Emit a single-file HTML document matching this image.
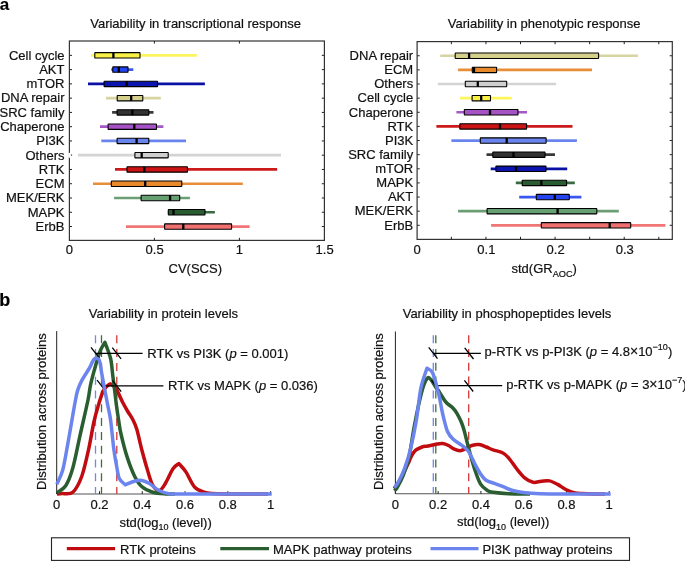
<!DOCTYPE html>
<html><head><meta charset="utf-8"><style>
html,body{margin:0;padding:0;background:#fff;width:685px;height:561px;overflow:hidden}
svg{display:block;will-change:transform}
text{font-family:"Liberation Sans", sans-serif;fill:#111;stroke:#111;stroke-width:0.2px}
</style></head><body>
<svg width="685" height="561" viewBox="0 0 685 561" font-family='"Liberation Sans", sans-serif' fill="#111">
<rect width="685" height="561" fill="#fff"/>
<text x="-0.3" y="9.9" font-size="17" text-anchor="start" font-weight="bold" style="fill:#000;stroke:#000;stroke-width:0.15px">a</text>
<text x="-0.7" y="305.8" font-size="18" text-anchor="start" font-weight="bold" style="fill:#000;stroke:#000;stroke-width:0.15px">b</text>
<text x="195.6" y="28.1" font-size="13" text-anchor="middle" font-weight="normal" >Variability in transcriptional response</text>
<text x="544.2" y="28.1" font-size="13" text-anchor="middle" font-weight="normal" >Variability in phenotypic response</text>
<line x1="91" y1="55.35" x2="196.8" y2="55.35" stroke="#fcf65c" stroke-width="2.7"/>
<rect x="94.8" y="52.65" width="45.20" height="5.4" rx="0.4" fill="#f9f148" stroke="#000" stroke-width="1.1"/>
<line x1="113.4" y1="52.65" x2="113.4" y2="58.05" stroke="#000" stroke-width="2.3"/>
<line x1="69.4" y1="55.35" x2="72.0" y2="55.35" stroke="#222" stroke-width="1"/>
<line x1="324.4" y1="55.35" x2="321.79999999999995" y2="55.35" stroke="#222" stroke-width="1"/>
<text x="64.5" y="59.65" font-size="13" text-anchor="end" font-weight="normal" >Cell cycle</text>
<line x1="111.3" y1="69.62" x2="133.3" y2="69.62" stroke="#3a56f0" stroke-width="2.7"/>
<rect x="112.8" y="66.92" width="15.20" height="5.4" rx="0.4" fill="#2444f0" stroke="#000" stroke-width="1.1"/>
<line x1="118.8" y1="66.92" x2="118.8" y2="72.32" stroke="#000" stroke-width="2.3"/>
<line x1="69.4" y1="69.62" x2="72.0" y2="69.62" stroke="#222" stroke-width="1"/>
<line x1="324.4" y1="69.62" x2="321.79999999999995" y2="69.62" stroke="#222" stroke-width="1"/>
<text x="64.5" y="73.92" font-size="13" text-anchor="end" font-weight="normal" >AKT</text>
<line x1="88" y1="83.88" x2="204.9" y2="83.88" stroke="#0a10a4" stroke-width="2.7"/>
<rect x="104.1" y="81.18" width="53.50" height="5.4" rx="0.4" fill="#0c14b0" stroke="#000" stroke-width="1.1"/>
<line x1="126.7" y1="81.18" x2="126.7" y2="86.58" stroke="#000" stroke-width="2.3"/>
<line x1="69.4" y1="83.88" x2="72.0" y2="83.88" stroke="#222" stroke-width="1"/>
<line x1="324.4" y1="83.88" x2="321.79999999999995" y2="83.88" stroke="#222" stroke-width="1"/>
<text x="64.5" y="88.18" font-size="13" text-anchor="end" font-weight="normal" >mTOR</text>
<line x1="106" y1="98.15" x2="160.8" y2="98.15" stroke="#d6d4a0" stroke-width="2.7"/>
<rect x="117.2" y="95.45" width="25.60" height="5.4" rx="0.4" fill="#d4d08c" stroke="#000" stroke-width="1.1"/>
<line x1="131.2" y1="95.45" x2="131.2" y2="100.85" stroke="#000" stroke-width="2.3"/>
<line x1="69.4" y1="98.15" x2="72.0" y2="98.15" stroke="#222" stroke-width="1"/>
<line x1="324.4" y1="98.15" x2="321.79999999999995" y2="98.15" stroke="#222" stroke-width="1"/>
<text x="64.5" y="102.45" font-size="13" text-anchor="end" font-weight="normal" >DNA repair</text>
<line x1="112.1" y1="112.41" x2="153.5" y2="112.41" stroke="#3a3a3a" stroke-width="2.7"/>
<rect x="117.1" y="109.71" width="31.70" height="5.4" rx="0.4" fill="#333333" stroke="#000" stroke-width="1.1"/>
<line x1="132.4" y1="109.71" x2="132.4" y2="115.11" stroke="#000" stroke-width="2.3"/>
<line x1="69.4" y1="112.41" x2="72.0" y2="112.41" stroke="#222" stroke-width="1"/>
<line x1="324.4" y1="112.41" x2="321.79999999999995" y2="112.41" stroke="#222" stroke-width="1"/>
<text x="64.5" y="116.71" font-size="13" text-anchor="end" font-weight="normal" >SRC family</text>
<line x1="100" y1="126.68" x2="163.4" y2="126.68" stroke="#a458c8" stroke-width="2.7"/>
<rect x="108.1" y="123.98" width="48.40" height="5.4" rx="0.4" fill="#a452c4" stroke="#000" stroke-width="1.1"/>
<line x1="134.3" y1="123.98" x2="134.3" y2="129.38" stroke="#000" stroke-width="2.3"/>
<line x1="69.4" y1="126.68" x2="72.0" y2="126.68" stroke="#222" stroke-width="1"/>
<line x1="324.4" y1="126.68" x2="321.79999999999995" y2="126.68" stroke="#222" stroke-width="1"/>
<text x="64.5" y="130.98" font-size="13" text-anchor="end" font-weight="normal" >Chaperone</text>
<line x1="101.3" y1="140.94" x2="186" y2="140.94" stroke="#6a84ee" stroke-width="2.7"/>
<rect x="117.1" y="138.24" width="31.70" height="5.4" rx="0.4" fill="#6a84ee" stroke="#000" stroke-width="1.1"/>
<line x1="136.6" y1="138.24" x2="136.6" y2="143.64" stroke="#000" stroke-width="2.3"/>
<line x1="69.4" y1="140.94" x2="72.0" y2="140.94" stroke="#222" stroke-width="1"/>
<line x1="324.4" y1="140.94" x2="321.79999999999995" y2="140.94" stroke="#222" stroke-width="1"/>
<text x="64.5" y="145.24" font-size="13" text-anchor="end" font-weight="normal" >PI3K</text>
<line x1="78" y1="155.21" x2="281" y2="155.21" stroke="#d4d4d4" stroke-width="2.7"/>
<rect x="134.9" y="152.51" width="33.30" height="5.4" rx="0.4" fill="#cfcfcf" stroke="#000" stroke-width="1.1"/>
<line x1="141.7" y1="152.51" x2="141.7" y2="157.91" stroke="#000" stroke-width="2.3"/>
<line x1="69.4" y1="155.21" x2="72.0" y2="155.21" stroke="#222" stroke-width="1"/>
<line x1="324.4" y1="155.21" x2="321.79999999999995" y2="155.21" stroke="#222" stroke-width="1"/>
<text x="64.5" y="159.51" font-size="13" text-anchor="end" font-weight="normal" >Others</text>
<line x1="115" y1="169.47" x2="277.1" y2="169.47" stroke="#cc1a1a" stroke-width="2.7"/>
<rect x="127" y="166.77" width="60.50" height="5.4" rx="0.4" fill="#cc1414" stroke="#000" stroke-width="1.1"/>
<line x1="144.3" y1="166.77" x2="144.3" y2="172.17" stroke="#000" stroke-width="2.3"/>
<line x1="69.4" y1="169.47" x2="72.0" y2="169.47" stroke="#222" stroke-width="1"/>
<line x1="324.4" y1="169.47" x2="321.79999999999995" y2="169.47" stroke="#222" stroke-width="1"/>
<text x="64.5" y="173.77" font-size="13" text-anchor="end" font-weight="normal" >RTK</text>
<line x1="93" y1="183.73" x2="242.8" y2="183.73" stroke="#e88e38" stroke-width="2.7"/>
<rect x="111.3" y="181.03" width="70.50" height="5.4" rx="0.4" fill="#e88a2c" stroke="#000" stroke-width="1.1"/>
<line x1="145.2" y1="181.03" x2="145.2" y2="186.43" stroke="#000" stroke-width="2.3"/>
<line x1="69.4" y1="183.73" x2="72.0" y2="183.73" stroke="#222" stroke-width="1"/>
<line x1="324.4" y1="183.73" x2="321.79999999999995" y2="183.73" stroke="#222" stroke-width="1"/>
<text x="64.5" y="188.03" font-size="13" text-anchor="end" font-weight="normal" >ECM</text>
<line x1="114.1" y1="198.00" x2="189.9" y2="198.00" stroke="#6c9e74" stroke-width="2.7"/>
<rect x="141.1" y="195.30" width="38.60" height="5.4" rx="0.4" fill="#66a072" stroke="#000" stroke-width="1.1"/>
<line x1="170.1" y1="195.30" x2="170.1" y2="200.70" stroke="#000" stroke-width="2.3"/>
<line x1="69.4" y1="198.00" x2="72.0" y2="198.00" stroke="#222" stroke-width="1"/>
<line x1="324.4" y1="198.00" x2="321.79999999999995" y2="198.00" stroke="#222" stroke-width="1"/>
<text x="64.5" y="202.30" font-size="13" text-anchor="end" font-weight="normal" >MEK/ERK</text>
<line x1="167.9" y1="212.27" x2="214.9" y2="212.27" stroke="#3a6a40" stroke-width="2.7"/>
<rect x="168.3" y="209.57" width="36.70" height="5.4" rx="0.4" fill="#2a5c32" stroke="#000" stroke-width="1.1"/>
<line x1="173.5" y1="209.57" x2="173.5" y2="214.97" stroke="#000" stroke-width="2.3"/>
<line x1="69.4" y1="212.27" x2="72.0" y2="212.27" stroke="#222" stroke-width="1"/>
<line x1="324.4" y1="212.27" x2="321.79999999999995" y2="212.27" stroke="#222" stroke-width="1"/>
<text x="64.5" y="216.57" font-size="13" text-anchor="end" font-weight="normal" >MAPK</text>
<line x1="126" y1="226.53" x2="249.6" y2="226.53" stroke="#f07676" stroke-width="2.7"/>
<rect x="164.6" y="223.83" width="67.00" height="5.4" rx="0.4" fill="#f07070" stroke="#000" stroke-width="1.1"/>
<line x1="183.3" y1="223.83" x2="183.3" y2="229.23" stroke="#000" stroke-width="2.3"/>
<line x1="69.4" y1="226.53" x2="72.0" y2="226.53" stroke="#222" stroke-width="1"/>
<line x1="324.4" y1="226.53" x2="321.79999999999995" y2="226.53" stroke="#222" stroke-width="1"/>
<text x="64.5" y="230.83" font-size="13" text-anchor="end" font-weight="normal" >ErbB</text>
<line x1="440.2" y1="55.75" x2="637.9" y2="55.75" stroke="#d6d4a0" stroke-width="2.7"/>
<rect x="455.2" y="53.05" width="143.40" height="5.4" rx="0.4" fill="#d4d08c" stroke="#000" stroke-width="1.1"/>
<line x1="469.1" y1="53.05" x2="469.1" y2="58.45" stroke="#000" stroke-width="2.3"/>
<line x1="417.1" y1="55.75" x2="419.70000000000005" y2="55.75" stroke="#222" stroke-width="1"/>
<line x1="672.3" y1="55.75" x2="669.6999999999999" y2="55.75" stroke="#222" stroke-width="1"/>
<text x="413.2" y="60.05" font-size="13" text-anchor="end" font-weight="normal" >DNA repair</text>
<line x1="458.1" y1="69.88" x2="592" y2="69.88" stroke="#e88e38" stroke-width="2.7"/>
<rect x="472.3" y="67.18" width="24.30" height="5.4" rx="0.4" fill="#e88a2c" stroke="#000" stroke-width="1.1"/>
<line x1="474.0" y1="67.18" x2="474.0" y2="72.58" stroke="#000" stroke-width="2.3"/>
<line x1="417.1" y1="69.88" x2="419.70000000000005" y2="69.88" stroke="#222" stroke-width="1"/>
<line x1="672.3" y1="69.88" x2="669.6999999999999" y2="69.88" stroke="#222" stroke-width="1"/>
<text x="413.2" y="74.18" font-size="13" text-anchor="end" font-weight="normal" >ECM</text>
<line x1="437.8" y1="84.01" x2="556.1" y2="84.01" stroke="#d4d4d4" stroke-width="2.7"/>
<rect x="465.3" y="81.31" width="41.40" height="5.4" rx="0.4" fill="#cfcfcf" stroke="#000" stroke-width="1.1"/>
<line x1="477.8" y1="81.31" x2="477.8" y2="86.71" stroke="#000" stroke-width="2.3"/>
<line x1="417.1" y1="84.01" x2="419.70000000000005" y2="84.01" stroke="#222" stroke-width="1"/>
<line x1="672.3" y1="84.01" x2="669.6999999999999" y2="84.01" stroke="#222" stroke-width="1"/>
<text x="413.2" y="88.31" font-size="13" text-anchor="end" font-weight="normal" >Others</text>
<line x1="460" y1="98.14" x2="511.8" y2="98.14" stroke="#fcf65c" stroke-width="2.7"/>
<rect x="472.1" y="95.44" width="18.40" height="5.4" rx="0.4" fill="#f9f148" stroke="#000" stroke-width="1.1"/>
<line x1="481.2" y1="95.44" x2="481.2" y2="100.84" stroke="#000" stroke-width="2.3"/>
<line x1="417.1" y1="98.14" x2="419.70000000000005" y2="98.14" stroke="#222" stroke-width="1"/>
<line x1="672.3" y1="98.14" x2="669.6999999999999" y2="98.14" stroke="#222" stroke-width="1"/>
<text x="413.2" y="102.44" font-size="13" text-anchor="end" font-weight="normal" >Cell cycle</text>
<line x1="456.4" y1="112.27" x2="527" y2="112.27" stroke="#a458c8" stroke-width="2.7"/>
<rect x="464.3" y="109.57" width="53.70" height="5.4" rx="0.4" fill="#a452c4" stroke="#000" stroke-width="1.1"/>
<line x1="490" y1="109.57" x2="490" y2="114.97" stroke="#000" stroke-width="2.3"/>
<line x1="417.1" y1="112.27" x2="419.70000000000005" y2="112.27" stroke="#222" stroke-width="1"/>
<line x1="672.3" y1="112.27" x2="669.6999999999999" y2="112.27" stroke="#222" stroke-width="1"/>
<text x="413.2" y="116.57" font-size="13" text-anchor="end" font-weight="normal" >Chaperone</text>
<line x1="436.4" y1="126.40" x2="572.5" y2="126.40" stroke="#cc1a1a" stroke-width="2.7"/>
<rect x="459.8" y="123.70" width="66.80" height="5.4" rx="0.4" fill="#cc1414" stroke="#000" stroke-width="1.1"/>
<line x1="500" y1="123.70" x2="500" y2="129.10" stroke="#000" stroke-width="2.3"/>
<line x1="417.1" y1="126.40" x2="419.70000000000005" y2="126.40" stroke="#222" stroke-width="1"/>
<line x1="672.3" y1="126.40" x2="669.6999999999999" y2="126.40" stroke="#222" stroke-width="1"/>
<text x="413.2" y="130.70" font-size="13" text-anchor="end" font-weight="normal" >RTK</text>
<line x1="451.4" y1="140.53" x2="576.9" y2="140.53" stroke="#6a84ee" stroke-width="2.7"/>
<rect x="480.3" y="137.83" width="65.80" height="5.4" rx="0.4" fill="#6a84ee" stroke="#000" stroke-width="1.1"/>
<line x1="506.7" y1="137.83" x2="506.7" y2="143.23" stroke="#000" stroke-width="2.3"/>
<line x1="417.1" y1="140.53" x2="419.70000000000005" y2="140.53" stroke="#222" stroke-width="1"/>
<line x1="672.3" y1="140.53" x2="669.6999999999999" y2="140.53" stroke="#222" stroke-width="1"/>
<text x="413.2" y="144.83" font-size="13" text-anchor="end" font-weight="normal" >PI3K</text>
<line x1="486.5" y1="154.66" x2="555" y2="154.66" stroke="#3a3a3a" stroke-width="2.7"/>
<rect x="492.8" y="151.96" width="52.20" height="5.4" rx="0.4" fill="#333333" stroke="#000" stroke-width="1.1"/>
<line x1="513.5" y1="151.96" x2="513.5" y2="157.36" stroke="#000" stroke-width="2.3"/>
<line x1="417.1" y1="154.66" x2="419.70000000000005" y2="154.66" stroke="#222" stroke-width="1"/>
<line x1="672.3" y1="154.66" x2="669.6999999999999" y2="154.66" stroke="#222" stroke-width="1"/>
<text x="413.2" y="158.96" font-size="13" text-anchor="end" font-weight="normal" >SRC family</text>
<line x1="490.7" y1="168.79" x2="567.2" y2="168.79" stroke="#0a10a4" stroke-width="2.7"/>
<rect x="495.9" y="166.09" width="50.10" height="5.4" rx="0.4" fill="#0c14b0" stroke="#000" stroke-width="1.1"/>
<line x1="516" y1="166.09" x2="516" y2="171.49" stroke="#000" stroke-width="2.3"/>
<line x1="417.1" y1="168.79" x2="419.70000000000005" y2="168.79" stroke="#222" stroke-width="1"/>
<line x1="672.3" y1="168.79" x2="669.6999999999999" y2="168.79" stroke="#222" stroke-width="1"/>
<text x="413.2" y="173.09" font-size="13" text-anchor="end" font-weight="normal" >mTOR</text>
<line x1="515.8" y1="182.92" x2="574.8" y2="182.92" stroke="#3a6a40" stroke-width="2.7"/>
<rect x="522.2" y="180.22" width="44.40" height="5.4" rx="0.4" fill="#2a5c32" stroke="#000" stroke-width="1.1"/>
<line x1="541.4" y1="180.22" x2="541.4" y2="185.62" stroke="#000" stroke-width="2.3"/>
<line x1="417.1" y1="182.92" x2="419.70000000000005" y2="182.92" stroke="#222" stroke-width="1"/>
<line x1="672.3" y1="182.92" x2="669.6999999999999" y2="182.92" stroke="#222" stroke-width="1"/>
<text x="413.2" y="187.22" font-size="13" text-anchor="end" font-weight="normal" >MAPK</text>
<line x1="519.2" y1="197.05" x2="581.4" y2="197.05" stroke="#3a56f0" stroke-width="2.7"/>
<rect x="536.3" y="194.35" width="33.00" height="5.4" rx="0.4" fill="#2444f0" stroke="#000" stroke-width="1.1"/>
<line x1="554.8" y1="194.35" x2="554.8" y2="199.75" stroke="#000" stroke-width="2.3"/>
<line x1="417.1" y1="197.05" x2="419.70000000000005" y2="197.05" stroke="#222" stroke-width="1"/>
<line x1="672.3" y1="197.05" x2="669.6999999999999" y2="197.05" stroke="#222" stroke-width="1"/>
<text x="413.2" y="201.35" font-size="13" text-anchor="end" font-weight="normal" >AKT</text>
<line x1="458.1" y1="211.18" x2="618.8" y2="211.18" stroke="#6c9e74" stroke-width="2.7"/>
<rect x="487.1" y="208.48" width="109.70" height="5.4" rx="0.4" fill="#66a072" stroke="#000" stroke-width="1.1"/>
<line x1="557.6" y1="208.48" x2="557.6" y2="213.88" stroke="#000" stroke-width="2.3"/>
<line x1="417.1" y1="211.18" x2="419.70000000000005" y2="211.18" stroke="#222" stroke-width="1"/>
<line x1="672.3" y1="211.18" x2="669.6999999999999" y2="211.18" stroke="#222" stroke-width="1"/>
<text x="413.2" y="215.48" font-size="13" text-anchor="end" font-weight="normal" >MEK/ERK</text>
<line x1="491.1" y1="225.31" x2="665.4" y2="225.31" stroke="#f07676" stroke-width="2.7"/>
<rect x="541.3" y="222.61" width="89.40" height="5.4" rx="0.4" fill="#f07070" stroke="#000" stroke-width="1.1"/>
<line x1="609.7" y1="222.61" x2="609.7" y2="228.01" stroke="#000" stroke-width="2.3"/>
<line x1="417.1" y1="225.31" x2="419.70000000000005" y2="225.31" stroke="#222" stroke-width="1"/>
<line x1="672.3" y1="225.31" x2="669.6999999999999" y2="225.31" stroke="#222" stroke-width="1"/>
<text x="413.2" y="229.61" font-size="13" text-anchor="end" font-weight="normal" >ErbB</text>
<rect x="67.8" y="152.7" width="3.4" height="5.2" fill="#fff"/>
<rect x="69.4" y="41.0" width="255.00" height="199.40" fill="none" stroke="#333" stroke-width="1.2"/>
<rect x="417.1" y="41.6" width="255.20" height="197.80" fill="none" stroke="#333" stroke-width="1.2"/>
<rect x="68.4" y="152.9" width="2.0" height="4.8" fill="#fff"/>
<line x1="70.8" y1="155.0" x2="72.2" y2="155.0" stroke="#666" stroke-width="1"/>
<line x1="154.4" y1="41.0" x2="154.4" y2="43.6" stroke="#222" stroke-width="1"/>
<line x1="154.4" y1="240.4" x2="154.4" y2="237.8" stroke="#222" stroke-width="1"/>
<line x1="239.4" y1="41.0" x2="239.4" y2="43.6" stroke="#222" stroke-width="1"/>
<line x1="239.4" y1="240.4" x2="239.4" y2="237.8" stroke="#222" stroke-width="1"/>
<text x="69.4" y="254.3" font-size="13" text-anchor="middle" font-weight="normal" >0</text>
<text x="154.6" y="254.3" font-size="13" text-anchor="middle" font-weight="normal" >0.5</text>
<text x="239.4" y="254.3" font-size="13" text-anchor="middle" font-weight="normal" >1</text>
<text x="324.6" y="254.3" font-size="13" text-anchor="middle" font-weight="normal" >1.5</text>
<text x="195.3" y="272.9" font-size="13" text-anchor="middle" font-weight="normal" >CV(SCS)</text>
<line x1="451.37" y1="41.6" x2="451.37" y2="44.2" stroke="#222" stroke-width="1"/>
<line x1="451.37" y1="239.4" x2="451.37" y2="236.8" stroke="#222" stroke-width="1"/>
<line x1="485.94" y1="41.6" x2="485.94" y2="44.2" stroke="#222" stroke-width="1"/>
<line x1="485.94" y1="239.4" x2="485.94" y2="236.8" stroke="#222" stroke-width="1"/>
<line x1="520.51" y1="41.6" x2="520.51" y2="44.2" stroke="#222" stroke-width="1"/>
<line x1="520.51" y1="239.4" x2="520.51" y2="236.8" stroke="#222" stroke-width="1"/>
<line x1="555.08" y1="41.6" x2="555.08" y2="44.2" stroke="#222" stroke-width="1"/>
<line x1="555.08" y1="239.4" x2="555.08" y2="236.8" stroke="#222" stroke-width="1"/>
<line x1="589.65" y1="41.6" x2="589.65" y2="44.2" stroke="#222" stroke-width="1"/>
<line x1="589.65" y1="239.4" x2="589.65" y2="236.8" stroke="#222" stroke-width="1"/>
<line x1="624.22" y1="41.6" x2="624.22" y2="44.2" stroke="#222" stroke-width="1"/>
<line x1="624.22" y1="239.4" x2="624.22" y2="236.8" stroke="#222" stroke-width="1"/>
<line x1="658.79" y1="41.6" x2="658.79" y2="44.2" stroke="#222" stroke-width="1"/>
<line x1="658.79" y1="239.4" x2="658.79" y2="236.8" stroke="#222" stroke-width="1"/>
<text x="417.1" y="254.3" font-size="13" text-anchor="middle" font-weight="normal" >0</text>
<text x="486.4" y="254.3" font-size="13" text-anchor="middle" font-weight="normal" >0.1</text>
<text x="555.6" y="254.3" font-size="13" text-anchor="middle" font-weight="normal" >0.2</text>
<text x="624.8" y="254.3" font-size="13" text-anchor="middle" font-weight="normal" >0.3</text>
<text x="544.2" y="273.4" font-size="13" text-anchor="middle">std(GR<tspan font-size="9.2" dy="3.6">AOC</tspan><tspan dy="-3.6">)</tspan></text>
<text x="163.4" y="318" font-size="13" text-anchor="middle" font-weight="normal" >Variability in protein levels</text>
<text x="507.0" y="317.5" font-size="13" text-anchor="middle" font-weight="normal" >Variability in phosphopeptides levels</text>
<line x1="56.7" y1="331.1" x2="56.7" y2="494.0" stroke="#222" stroke-width="1"/>
<line x1="56.7" y1="494.0" x2="271.0" y2="494.0" stroke="#555" stroke-width="1.1"/>
<text x="45.9" y="411.6" font-size="13" text-anchor="middle" transform="rotate(-90 45.9 411.6)">Distribution across proteins</text>
<line x1="56.70" y1="494" x2="56.70" y2="491.2" stroke="#222" stroke-width="1"/>
<text x="56.70" y="508.6" font-size="13" text-anchor="middle" font-weight="normal" >0</text>
<line x1="99.48" y1="494" x2="99.48" y2="491.2" stroke="#222" stroke-width="1"/>
<text x="99.48" y="508.6" font-size="13" text-anchor="middle" font-weight="normal" >0.2</text>
<line x1="142.26" y1="494" x2="142.26" y2="491.2" stroke="#222" stroke-width="1"/>
<text x="142.26" y="508.6" font-size="13" text-anchor="middle" font-weight="normal" >0.4</text>
<line x1="185.04" y1="494" x2="185.04" y2="491.2" stroke="#222" stroke-width="1"/>
<text x="185.04" y="508.6" font-size="13" text-anchor="middle" font-weight="normal" >0.6</text>
<line x1="227.82" y1="494" x2="227.82" y2="491.2" stroke="#222" stroke-width="1"/>
<text x="227.82" y="508.6" font-size="13" text-anchor="middle" font-weight="normal" >0.8</text>
<line x1="270.60" y1="494" x2="270.60" y2="491.2" stroke="#222" stroke-width="1"/>
<text x="270.60" y="508.6" font-size="13" text-anchor="middle" font-weight="normal" >1</text>
<text x="165.6" y="526.8" font-size="13" text-anchor="middle">std(log<tspan font-size="9" dy="3.5">10</tspan><tspan dy="-3.5"> (level))</tspan></text>
<line x1="95.5" y1="335.3" x2="95.5" y2="494" stroke="#7088e8" stroke-width="1.3" stroke-dasharray="8 5.8"/>
<line x1="101.5" y1="335.3" x2="101.5" y2="494" stroke="#3d7040" stroke-width="1.3" stroke-dasharray="8 5.8"/>
<line x1="116.8" y1="335.3" x2="116.8" y2="494" stroke="#d03838" stroke-width="1.3" stroke-dasharray="8 5.8"/>
<path d="M57.00,494.00 C57.82,493.94 59.57,493.89 62.10,493.60 C64.63,493.31 69.66,494.94 72.80,492.20 C75.94,489.46 79.19,483.27 81.70,476.50 C84.21,469.73 86.53,458.70 88.50,449.90 C90.47,441.10 92.38,428.76 94.00,421.50 C95.62,414.24 97.16,409.30 98.60,404.50 C100.04,399.70 101.69,394.40 103.00,391.50 C104.31,388.60 105.65,387.62 106.80,386.40 C107.95,385.18 109.66,384.30 110.20,383.90 C110.65,384.17 112.01,384.75 113.00,385.60 C113.99,386.45 114.88,386.58 116.40,389.20 C117.92,391.82 120.72,398.51 122.50,402.00 C124.28,405.49 125.90,408.28 127.50,411.00 C129.10,413.72 131.03,416.10 132.50,419.00 C133.97,421.90 135.18,424.06 136.70,429.10 C138.22,434.14 140.29,444.00 142.00,450.50 C143.71,457.00 145.69,464.15 147.40,469.70 C149.11,475.25 150.76,481.87 152.70,485.20 C154.64,488.53 157.44,490.85 159.50,490.50 C161.56,490.15 163.44,486.49 165.60,483.00 C167.76,479.51 170.87,471.80 173.00,468.70 C175.13,465.60 177.96,464.42 178.90,463.60 C180.02,464.93 183.42,468.19 185.90,471.90 C188.38,475.61 191.50,483.55 194.40,486.80 C197.30,490.05 201.18,491.11 204.00,492.20 C206.82,493.29 207.84,493.33 212.00,493.60 C216.16,493.87 221.04,493.85 230.00,493.90 C238.96,493.95 261.92,493.90 268.00,493.90" fill="none" stroke="#c00c10" stroke-width="3.5" stroke-linejoin="round" stroke-linecap="butt"/>
<path d="M56.80,492.90 C58.22,491.76 63.14,489.78 65.70,485.80 C68.26,481.82 70.51,476.03 72.80,468.00 C75.09,459.97 77.57,446.48 80.00,435.60 C82.43,424.72 86.29,408.22 88.00,400.00 C89.71,391.78 89.36,390.15 90.70,384.20 C92.04,378.25 94.82,368.27 96.40,362.80 C97.98,357.33 99.24,353.28 100.60,350.00 C101.96,346.72 104.21,343.53 104.90,342.30 C105.81,344.89 109.35,353.27 110.60,358.50 C111.85,363.73 112.06,369.96 112.70,375.00 C113.34,380.04 114.01,385.20 114.60,390.00 C115.19,394.80 115.76,400.20 116.40,405.00 C117.04,409.80 117.86,415.36 118.60,420.00 C119.34,424.64 119.64,428.10 121.00,434.00 C122.36,439.90 124.92,450.15 127.10,456.90 C129.28,463.65 132.22,471.42 134.60,476.20 C136.98,480.98 139.10,484.24 142.00,486.80 C144.90,489.36 148.92,491.06 152.70,492.20 C156.48,493.34 162.03,493.63 165.60,493.90 C169.17,494.17 173.50,493.90 175.00,493.90" fill="none" stroke="#2a5e30" stroke-width="3.5" stroke-linejoin="round" stroke-linecap="butt"/>
<line x1="95.5" y1="353.3" x2="142.6" y2="353.3" stroke="#000" stroke-width="1.3"/>
<line x1="91.0" y1="347.4" x2="99.80000000000001" y2="358.6" stroke="#000" stroke-width="1.3"/>
<line x1="112.3" y1="347.7" x2="121.10000000000001" y2="358.90000000000003" stroke="#000" stroke-width="1.3"/>
<line x1="101.5" y1="385.8" x2="163.4" y2="385.8" stroke="#000" stroke-width="1.3"/>
<line x1="97.1" y1="380.2" x2="105.9" y2="391.40000000000003" stroke="#000" stroke-width="1.3"/>
<line x1="112.39999999999999" y1="380.4" x2="121.2" y2="391.6" stroke="#000" stroke-width="1.3"/>
<path d="M56.80,484.20 C57.73,482.01 60.89,476.69 62.60,470.50 C64.31,464.31 65.95,453.90 67.50,445.50 C69.05,437.10 71.02,425.28 72.30,418.00 C73.58,410.72 74.62,404.50 75.50,400.00 C76.38,395.50 76.74,393.12 77.80,389.90 C78.86,386.68 80.28,383.32 82.10,379.90 C83.92,376.48 87.26,371.81 89.20,368.50 C91.14,365.19 92.60,360.56 94.20,359.20 C95.80,357.84 98.02,357.82 99.20,360.00 C100.38,362.18 100.74,368.16 101.60,372.80 C102.46,377.44 103.64,383.93 104.60,389.00 C105.56,394.07 106.64,399.54 107.60,404.50 C108.56,409.46 109.61,412.88 110.60,420.00 C111.59,427.12 112.84,441.64 113.80,449.00 C114.76,456.36 115.72,461.28 116.60,466.00 C117.48,470.72 117.91,475.49 119.30,478.50 C120.69,481.51 124.34,483.79 125.30,484.80 C126.61,484.27 130.83,482.20 133.50,481.50 C136.17,480.80 139.44,480.06 142.00,480.40 C144.56,480.74 146.92,482.06 149.50,483.60 C152.08,485.14 155.19,488.43 158.10,490.00 C161.01,491.57 164.20,492.78 167.70,493.40 C171.20,494.02 163.36,493.82 180.00,493.90 C196.64,493.98 257.03,493.90 271.70,493.90" fill="none" stroke="#6c84ee" stroke-width="3.5" stroke-linejoin="round" stroke-linecap="butt"/>
<text x="147.3" y="357.5" font-size="13">RTK vs PI3K (<tspan font-style="italic">p</tspan> = 0.001)</text>
<text x="168.1" y="390.3" font-size="13">RTK vs MAPK (<tspan font-style="italic">p</tspan> = 0.036)</text>
<line x1="395.4" y1="331.5" x2="395.4" y2="493.8" stroke="#222" stroke-width="1"/>
<line x1="395.4" y1="493.8" x2="610.0" y2="493.8" stroke="#555" stroke-width="1.1"/>
<text x="382.9" y="411.6" font-size="13" text-anchor="middle" transform="rotate(-90 382.9 411.6)">Distribution across proteins</text>
<line x1="395.40" y1="493.8" x2="395.40" y2="491.0" stroke="#222" stroke-width="1"/>
<text x="395.40" y="508.6" font-size="13" text-anchor="middle" font-weight="normal" >0</text>
<line x1="438.16" y1="493.8" x2="438.16" y2="491.0" stroke="#222" stroke-width="1"/>
<text x="438.16" y="508.6" font-size="13" text-anchor="middle" font-weight="normal" >0.2</text>
<line x1="480.92" y1="493.8" x2="480.92" y2="491.0" stroke="#222" stroke-width="1"/>
<text x="480.92" y="508.6" font-size="13" text-anchor="middle" font-weight="normal" >0.4</text>
<line x1="523.68" y1="493.8" x2="523.68" y2="491.0" stroke="#222" stroke-width="1"/>
<text x="523.68" y="508.6" font-size="13" text-anchor="middle" font-weight="normal" >0.6</text>
<line x1="566.44" y1="493.8" x2="566.44" y2="491.0" stroke="#222" stroke-width="1"/>
<text x="566.44" y="508.6" font-size="13" text-anchor="middle" font-weight="normal" >0.8</text>
<line x1="609.20" y1="493.8" x2="609.20" y2="491.0" stroke="#222" stroke-width="1"/>
<text x="609.20" y="508.6" font-size="13" text-anchor="middle" font-weight="normal" >1</text>
<text x="503.2" y="526.3" font-size="13" text-anchor="middle">std(log<tspan font-size="9" dy="3.5">10</tspan><tspan dy="-3.5"> (level))</tspan></text>
<line x1="433.3" y1="335.2" x2="433.3" y2="493.8" stroke="#7088e8" stroke-width="1.3" stroke-dasharray="8 5.8"/>
<line x1="435.8" y1="335.2" x2="435.8" y2="493.8" stroke="#3d7040" stroke-width="1.3" stroke-dasharray="8 5.8"/>
<line x1="468.7" y1="335.2" x2="468.7" y2="493.8" stroke="#d03838" stroke-width="1.3" stroke-dasharray="8 5.8"/>
<path d="M394.30,488.70 C395.21,487.31 398.29,482.99 400.00,480.00 C401.71,477.01 403.54,472.96 405.00,470.00 C406.46,467.04 408.08,463.74 409.10,461.50 C410.12,459.26 410.34,457.81 411.40,456.00 C412.46,454.19 413.99,451.64 415.70,450.20 C417.41,448.76 420.13,447.67 422.10,447.00 C424.07,446.33 425.65,446.46 428.00,446.00 C430.35,445.54 434.46,444.48 436.80,444.10 C439.14,443.72 440.73,443.38 442.60,443.60 C444.47,443.82 446.63,444.60 448.50,445.50 C450.37,446.40 452.43,448.37 454.30,449.20 C456.17,450.03 458.33,450.81 460.20,450.70 C462.07,450.59 464.14,449.33 466.00,448.50 C467.86,447.67 469.70,446.14 471.80,445.50 C473.90,444.86 476.76,444.26 479.10,444.50 C481.44,444.74 484.18,446.14 486.40,447.00 C488.62,447.86 490.42,448.99 493.00,449.90 C495.58,450.81 500.00,451.44 502.50,452.70 C505.00,453.96 506.31,455.19 508.60,457.80 C510.89,460.41 514.18,465.74 516.80,469.00 C519.42,472.26 522.39,476.07 525.00,478.20 C527.61,480.33 530.49,481.80 533.10,482.30 C535.71,482.80 538.68,481.52 541.30,481.30 C543.92,481.08 546.88,480.40 549.50,480.90 C552.12,481.40 555.09,483.02 557.70,484.40 C560.31,485.78 563.19,488.19 565.80,489.50 C568.41,490.81 571.38,491.96 574.00,492.60 C576.62,493.24 578.84,493.29 582.20,493.50 C585.56,493.71 591.35,493.84 595.00,493.90 C598.65,493.96 603.40,493.90 605.00,493.90" fill="none" stroke="#c00c10" stroke-width="3.5" stroke-linejoin="round" stroke-linecap="butt"/>
<path d="M394.50,490.80 C394.96,490.22 396.01,489.65 397.40,487.20 C398.79,484.75 401.33,480.41 403.20,475.50 C405.07,470.59 407.31,464.48 409.10,456.50 C410.89,448.52 412.42,435.79 414.40,425.60 C416.38,415.41 419.48,400.32 421.50,392.80 C423.52,385.28 425.51,380.71 427.00,378.60 C428.49,376.49 429.39,378.21 430.80,379.60 C432.21,380.99 434.31,385.11 435.80,387.30 C437.29,389.49 438.50,390.95 440.10,393.30 C441.70,395.65 443.75,399.65 445.80,402.00 C447.85,404.35 451.08,406.11 452.90,408.00 C454.72,409.89 455.82,411.48 457.20,413.80 C458.58,416.12 460.33,419.64 461.50,422.50 C462.67,425.36 463.32,427.43 464.50,431.70 C465.68,435.97 467.25,443.14 468.90,449.20 C470.55,455.26 472.93,464.00 474.80,469.60 C476.67,475.20 478.50,480.81 480.60,484.20 C482.70,487.59 485.92,489.50 487.90,490.80 C489.88,492.10 489.69,491.84 493.00,492.30 C496.31,492.76 502.68,493.44 508.60,493.70 C514.52,493.96 526.58,493.87 530.00,493.90" fill="none" stroke="#2a5e30" stroke-width="3.5" stroke-linejoin="round" stroke-linecap="butt"/>
<line x1="433.3" y1="353.3" x2="480.9" y2="353.3" stroke="#000" stroke-width="1.3"/>
<line x1="428.70000000000005" y1="347.4" x2="437.5" y2="358.6" stroke="#000" stroke-width="1.3"/>
<line x1="464.70000000000005" y1="347.79999999999995" x2="473.5" y2="359.0" stroke="#000" stroke-width="1.3"/>
<line x1="435.8" y1="385.7" x2="502.2" y2="385.7" stroke="#000" stroke-width="1.3"/>
<line x1="431.40000000000003" y1="380.09999999999997" x2="440.2" y2="391.3" stroke="#000" stroke-width="1.3"/>
<line x1="464.40000000000003" y1="380.29999999999995" x2="473.2" y2="391.5" stroke="#000" stroke-width="1.3"/>
<path d="M394.30,487.80 C395.02,486.76 397.14,484.44 398.80,481.30 C400.46,478.16 402.83,473.34 404.70,468.20 C406.57,463.06 408.63,456.91 410.50,449.20 C412.37,441.49 414.75,429.71 416.40,420.00 C418.05,410.29 419.10,396.79 420.80,388.50 C422.50,380.21 426.01,371.45 427.00,368.20 C427.83,368.82 430.79,369.76 432.20,372.10 C433.61,374.44 434.65,378.80 435.80,382.80 C436.95,386.80 438.31,392.19 439.40,397.10 C440.49,402.01 441.30,408.00 442.60,413.50 C443.90,419.00 445.76,427.32 447.50,431.50 C449.24,435.68 451.00,437.23 453.50,439.60 C456.00,441.97 460.64,444.30 463.10,446.30 C465.56,448.30 467.03,449.30 468.90,452.10 C470.77,454.90 472.93,460.30 474.80,463.80 C476.67,467.30 478.79,471.36 480.60,474.00 C482.41,476.64 483.91,478.80 486.10,480.30 C488.29,481.80 491.68,482.42 494.30,483.40 C496.92,484.38 499.56,485.26 502.50,486.40 C505.44,487.54 509.10,489.48 512.70,490.50 C516.30,491.52 520.63,492.27 525.00,492.80 C529.37,493.33 534.40,493.62 540.00,493.80 C545.60,493.98 548.70,493.88 560.00,493.90 C571.30,493.92 602.50,493.90 610.60,493.90" fill="none" stroke="#6c84ee" stroke-width="3.5" stroke-linejoin="round" stroke-linecap="butt"/>
<text x="484.6" y="355.6" font-size="13">p-RTK vs p-PI3K (<tspan font-style="italic">p</tspan> = 4.8<tspan font-size="14">×</tspan>10<tspan font-size="9" dy="-6">−10</tspan><tspan dy="6">)</tspan></text>
<text x="506.2" y="389.0" font-size="13">p-RTK vs p-MAPK (<tspan font-style="italic">p</tspan> = 3<tspan font-size="14">×</tspan>10<tspan font-size="9" dy="-6">−7</tspan><tspan dy="6">)</tspan></text>
<rect x="51.5" y="537.8" width="578" height="22.6" fill="#fff" stroke="#222" stroke-width="1.1"/>
<line x1="66.8" y1="548.6" x2="115.1" y2="548.6" stroke="#c00c10" stroke-width="3.3"/>
<line x1="220.3" y1="548.6" x2="269" y2="548.6" stroke="#2a5e30" stroke-width="3.3"/>
<line x1="430.5" y1="548.6" x2="478.5" y2="548.6" stroke="#6c84ee" stroke-width="3.3"/>
<text x="120.0" y="553.6" font-size="13" text-anchor="start" font-weight="normal" >RTK proteins</text>
<text x="272.9" y="553.6" font-size="13" text-anchor="start" font-weight="normal" >MAPK pathway proteins</text>
<text x="482.4" y="553.6" font-size="13" text-anchor="start" font-weight="normal" >PI3K pathway proteins</text>
</svg>
</body></html>
